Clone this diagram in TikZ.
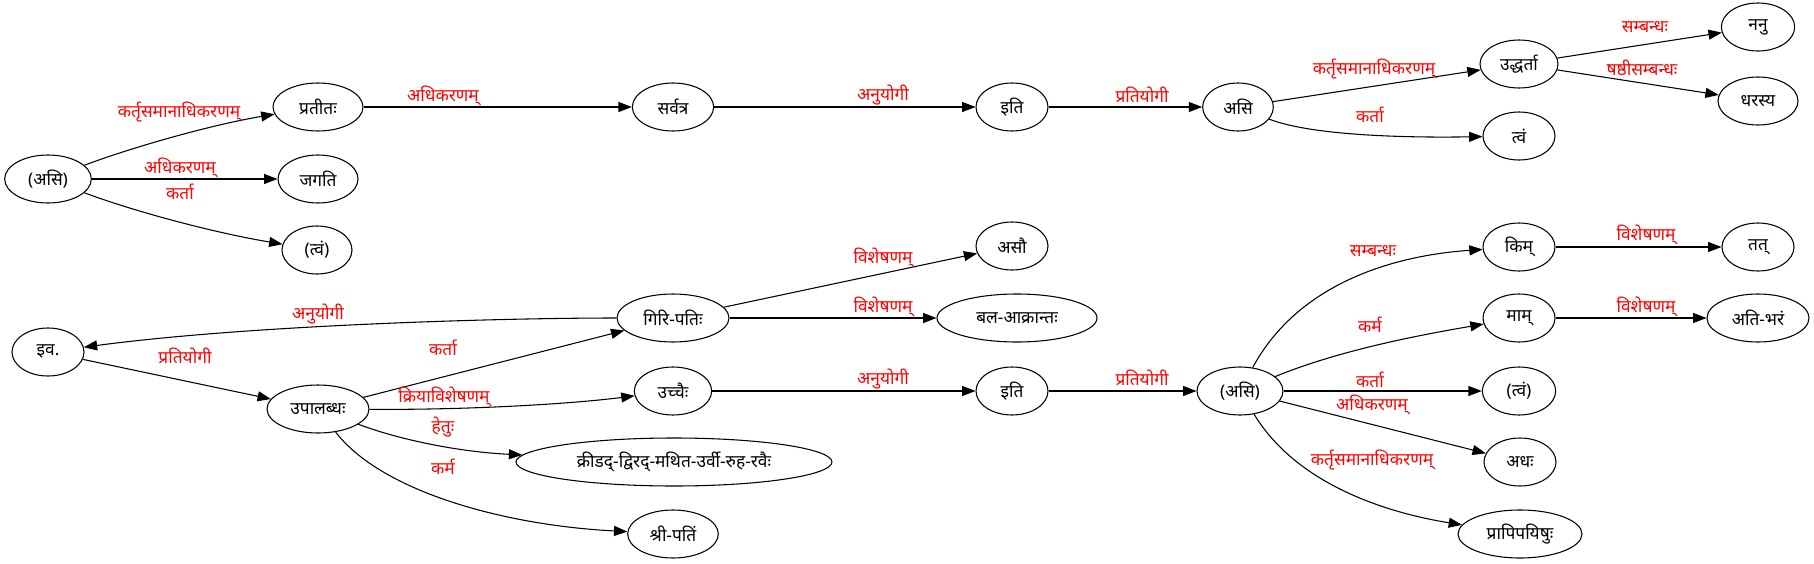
\documentclass[tikz,border=0pt]{standalone}
\usepackage{fontspec}
\newfontfamily\deva[Script=Devanagari]{Noto Sans}
\usetikzlibrary{shapes.geometric,arrows.meta}
\begin{document}
\begin{tikzpicture}[x=0.75pt,y=-0.75pt,
  nd/.style={draw,ellipse,line width=0.8pt,minimum height=36pt,inner sep=0pt,font=\deva\fontsize{13}{15}\selectfont},
  lbl/.style={text=red,inner sep=0pt,font=\deva\fontsize{13}{15}\selectfont},
  ed/.style={line width=0.8pt,-{Triangle[length=10pt,width=7.5pt]}}]
\useasboundingbox (0,0) rectangle (1814,564);
% top graph
\node[nd,minimum width=65pt] (asiL) at (48,179) {(असि)};
\node[nd,minimum width=67.5pt] (pratita) at (318,107) {प्रतीतः};
\node[nd,minimum width=60pt] (jagati) at (318,179) {जगति};
\node[nd,minimum width=52.5pt] (tvamA) at (317,250) {(त्वं)};
\node[nd,minimum width=61pt] (sarvatra) at (673,107) {सर्वत्र};
\node[nd,minimum width=54pt] (itiA) at (1012,107) {इति};
\node[nd,minimum width=53pt] (asiA) at (1238,107) {असि};
\node[nd,minimum width=58.5pt] (uddharta) at (1519,64) {उद्धर्ता};
\node[nd,minimum width=54pt] (tvamB) at (1519,136) {त्वं};
\node[nd,minimum width=55pt] (nanu) at (1758,27) {ननु};
\node[nd,minimum width=60pt] (dharasya) at (1758,101) {धरस्य};
% bottom graph
\node[nd,minimum width=54pt] (iva) at (48,352) {इव.};
\node[nd,minimum width=76.5pt] (upalabdha) at (318,409) {उपालब्धः};
\node[nd,minimum width=84pt] (giripati) at (673,318) {गिरि-पतिः};
\node[nd,minimum width=54pt] (asau) at (1012,246) {असौ};
\node[nd,minimum width=120pt] (bala) at (1017,318) {बल-आक्रान्तः};
\node[nd,minimum width=58pt] (uccaih) at (673,391) {उच्चैः};
\node[nd,minimum width=54pt] (itiB) at (1012,391) {इति};
\node[nd,minimum width=237pt] (kridad) at (674,462) {क्रीडद्-द्विरद्-मथित-उर्वी-रुह-रवैः};
\node[nd,minimum width=68pt] (shripati) at (673,534) {श्री-पतिं};
\node[nd,minimum width=64.5pt] (asiB) at (1240,391) {(असि)};
\node[nd,minimum width=54pt] (kim) at (1519,247) {किम्};
\node[nd,minimum width=54pt] (tat) at (1758,247) {तत्};
\node[nd,minimum width=54pt] (mam) at (1519,318) {माम्};
\node[nd,minimum width=76.5pt] (atibhara) at (1758,318) {अति-भरं};
\node[nd,minimum width=55pt] (tvamC) at (1519,391) {(त्वं)};
\node[nd,minimum width=54pt] (adhah) at (1520,462) {अधः};
\node[nd,minimum width=93pt] (prapi) at (1520,534) {प्रापिपयिषुः};
% top edges
\draw[ed] (asiL) .. controls (130,148) and (210,125) .. (pratita);
\draw[ed] (asiL) -- (jagati);
\draw[ed] (asiL) .. controls (130,210) and (210,232) .. (tvamA);
\draw[ed] (pratita) -- (sarvatra);
\draw[ed] (sarvatra) -- (itiA);
\draw[ed] (itiA) -- (asiA);
\draw[ed] (asiA) -- (uddharta);
\draw[ed] (asiA) .. controls (1310,135) and (1400,138) .. (tvamB);
\draw[ed] (uddharta) -- (nanu);
\draw[ed] (uddharta) -- (dharasya);
% bottom edges
\draw[ed] (giripati) .. controls (500,318) and (250,325) .. (iva);
\draw[ed] (iva) -- (upalabdha);
\draw[ed] (upalabdha) -- (giripati);
\draw[ed] (upalabdha) .. controls (470,410) and (570,404) .. (uccaih);
\draw[ed] (upalabdha) .. controls (400,440) and (460,452) .. (kridad);
\draw[ed] (upalabdha) .. controls (380,490) and (500,525) .. (shripati);
\draw[ed] (giripati) -- (asau);
\draw[ed] (giripati) -- (bala);
\draw[ed] (uccaih) -- (itiB);
\draw[ed] (itiB) -- (asiB);
\draw[ed] (asiB) .. controls (1300,280) and (1400,255) .. (kim);
\draw[ed] (asiB) .. controls (1340,350) and (1420,335) .. (mam);
\draw[ed] (asiB) -- (tvamC);
\draw[ed] (asiB) -- (adhah);
\draw[ed] (asiB) .. controls (1300,490) and (1400,515) .. (prapi);
\draw[ed] (kim) -- (tat);
\draw[ed] (mam) -- (atibhara);
% labels
\node[lbl] (l1) at (179,112) {कर्तृसमानाधिकरणम्};
\node[lbl] (l2) at (180,168) {अधिकरणम्};
\node[lbl] (l3) at (180,192) {कर्ता};
\node[lbl] (l4) at (443,96) {अधिकरणम्};
\node[lbl] (l5) at (883,95) {अनुयोगी};
\node[lbl] (l6) at (1142,95) {प्रतियोगी};
\node[lbl] (l7) at (1374,69) {कर्तृसमानाधिकरणम्};
\node[lbl] (l8) at (1370,115) {कर्ता};
\node[lbl] (l9) at (1645,27) {सम्बन्धः};
\node[lbl] (l10) at (1642,68) {षष्ठीसम्बन्धः};
\node[lbl] (l11) at (318,314) {अनुयोगी};
\node[lbl] (l12) at (185,356) {प्रतियोगी};
\node[lbl] (l13) at (443,348) {कर्ता};
\node[lbl] (l14) at (444,397) {क्रियाविशेषणम्};
\node[lbl] (l15) at (443,427) {हेतुः};
\node[lbl] (l16) at (443,467) {कर्म};
\node[lbl] (l17) at (883,258) {विशेषणम्};
\node[lbl] (l18) at (883,307) {विशेषणम्};
\node[lbl] (l19) at (883,379) {अनुयोगी};
\node[lbl] (l20) at (1142,378) {प्रतियोगी};
\node[lbl] (l21) at (1373,251) {सम्बन्धः};
\node[lbl] (l22) at (1370,325) {कर्म};
\node[lbl] (l23) at (1370,380) {कर्ता};
\node[lbl] (l24) at (1372,405) {अधिकरणम्};
\node[lbl] (l25) at (1372,460) {कर्तृसमानाधिकरणम्};
\node[lbl] (l26) at (1646,235) {विशेषणम्};
\node[lbl] (l27) at (1646,307) {विशेषणम्};
\end{tikzpicture}
\end{document}
